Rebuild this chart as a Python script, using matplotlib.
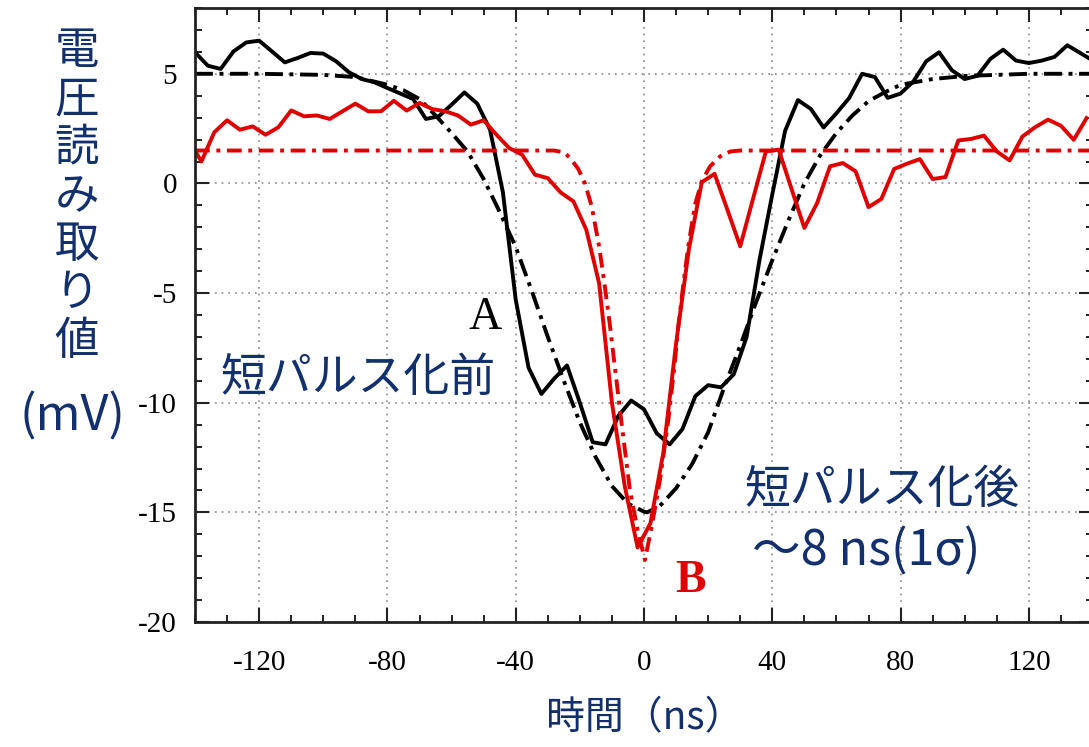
import matplotlib
matplotlib.use("Agg")
import matplotlib.pyplot as plt
from matplotlib.ticker import MultipleLocator

# 測定波形 A (短パルス化前), 4 ns 刻み
time_a = list(range(-140, 141, 4))
volt_a = [5.98, 5.37, 5.22, 6.02, 6.43, 6.51, 6.02, 5.52, 5.72, 5.95,
          5.92, 5.57, 5.07, 4.76, 4.61, 4.35, 4.10, 3.85, 2.94, 3.06,
          3.59, 4.15, 3.64, 2.45, -0.40, -5.3, -8.4, -9.6, -8.9, -8.3,
          -10.0, -11.8, -11.9, -10.6, -9.9, -10.3, -11.4, -11.9, -11.2, -9.7,
          -9.2, -9.3, -8.7, -7.0, -3.5, -0.5, 2.4, 3.8, 3.4, 2.55,
          3.2, 3.9, 5.0, 4.85, 3.9, 4.1, 4.65, 5.57, 5.98, 5.16,
          4.76, 4.91, 5.68, 6.10, 5.60, 5.49, 5.60, 5.77, 6.30, 5.95,
          5.6]

# 測定波形 B (短パルス化後)
time_b = list(range(-142, 139, 4))
volt_b = [2.0, 1.00, 2.33, 2.88, 2.45, 2.60, 2.22, 2.56, 3.33, 3.06,
          3.10, 2.94, 3.29, 3.64, 3.29, 3.29, 3.77, 3.32, 3.67, 3.39,
          3.29, 3.10, 2.68, 2.88, 2.22, 1.61, 1.31, 0.40, 0.24, -0.41,
          -0.82, -2.11, -4.55, -10.0, -13.8, -16.6, -15.5, -12.3, -7.3, -3.0,
          0.05, 0.44, -1.2, -2.87, -0.7, 1.46, 1.54, -0.25, -2.03, -0.89,
          0.78, 0.93, 0.55, -1.08, -0.71, 0.66, 0.90, 1.11, 0.20, 0.29,
          1.96, 2.03, 2.18, 1.46, 1.05, 2.14, 2.57, 2.91, 2.63, 1.99,
          2.98]

# フィット曲線 (一点鎖線)
fit_a_t = [-140, -120, -100, -90, -80, -75, -70, -65, -60, -55,
           -50, -45, -40, -35, -30, -25, -20, -15, -10, -5,
           0, 1, 5, 10, 15, 20, 25, 30, 35, 40,
           45, 50, 55, 60, 65, 70, 75, 80, 90, 100,
           120, 140]
fit_a_v = [5.0, 5.0, 4.95, 4.85, 4.5, 4.25, 3.85, 3.1, 2.3, 1.45,
           0.2, -1.3, -2.9, -4.9, -7.0, -9.0, -10.9, -12.5, -13.8, -14.6,
           -14.97, -15.0, -14.7, -13.9, -12.8, -11.35, -9.3, -7.4, -5.4, -3.5,
           -1.7, 0.0, 1.3, 2.3, 3.1, 3.75, 4.15, 4.5, 4.76, 4.9,
           5.0, 5.0]

fit_b_t = [-140, -28, -25, -23, -20.5, -18.4, -16.3, -14, -12.2, -10.6,
           -9.6, -7, -4.4, -1.8, 0.3, 2.4, 5, 7.6, 9.7, 10.7,
           12.3, 13.8, 15.9, 18, 20.6, 23.7, 27, 30, 140]
fit_b_v = [1.5, 1.5, 1.42, 1.16, 0.66, 0.0, -1.05, -2.87, -4.7, -6.5,
           -7.74, -10.93, -13.97, -15.95, -17.17, -15.65, -13.5, -10.78, -8.04, -6.5,
           -4.55, -2.87, -0.97, 0.09, 0.78, 1.23, 1.46, 1.5, 1.5]

x_ticks = [-120, -80, -40, 0, 40, 80, 120]
y_ticks = [-20, -15, -10, -5, 0, 5]
ylabel_chars = ["電", "圧", "読", "み", "取", "り", "値"]

NAVY = "#12306e"
RED = "#e00000"
W, H = 1089, 747


def main():
    plt.rcParams['font.family'] = ['Noto Sans CJK JP', 'DejaVu Sans']
    plt.rcParams['axes.unicode_minus'] = False
    fig = plt.figure(figsize=(W / 100, H / 100), dpi=100)
    ax = fig.add_axes([195 / W, 125 / H, 898 / W, 614 / H])

    ax.plot(fit_a_t, fit_a_v, color='k', lw=2.8, dashes=(4.6, 1.7, 1, 1.7))
    ax.plot(time_a, volt_a, color='k', lw=2.8)
    ax.plot(fit_b_t, fit_b_v, color=RED, lw=2.8, dashes=(3.8, 1.7, 1, 1.7))
    ax.plot(time_b, volt_b, color=RED, lw=2.8)

    ax.set_xlim(-140, 140)
    ax.set_ylim(-20, 8)
    ax.set_xticks(x_ticks)
    ax.set_yticks(y_ticks)
    ax.xaxis.set_minor_locator(MultipleLocator(10))
    ax.yaxis.set_minor_locator(MultipleLocator(1))
    ax.grid(True, which='major', color='#8a8a8a', lw=1.2, linestyle=(0, (1, 3)))
    ax.tick_params(which='both', direction='in', top=True, right=True,
                   color='#222222')
    ax.tick_params(which='major', length=10, width=1.5)
    ax.tick_params(which='minor', length=5, width=1.4)
    ax.tick_params(axis='x', pad=20)
    ax.tick_params(axis='y', pad=13)
    for lab in ax.get_xticklabels() + ax.get_yticklabels():
        lab.set_fontfamily('Liberation Serif')
        lab.set_fontsize(21)
    for sp in ax.spines.values():
        sp.set_linewidth(2)
        sp.set_color('#222222')

    # 縦書きの軸ラベル
    for i, ch in enumerate(ylabel_chars):
        fig.text(77 / W, 1 - (51 + 48.3 * i) / H, ch, fontsize=32, color=NAVY,
                 ha='center', va='center')
    fig.text(72 / W, 1 - 417 / H, "(mV)", fontsize=35, color=NAVY,
             ha='center', va='center')
    fig.text(645 / W, 1 - 718 / H, "時間（ns）", fontsize=28, color=NAVY,
             ha='center', va='center')

    fig.text(358 / W, 1 - 378 / H, "短パルス化前", fontsize=33, color=NAVY,
             ha='center', va='center')
    fig.text(882 / W, 1 - 490 / H, "短パルス化後", fontsize=33, color=NAVY,
             ha='center', va='center')
    fig.text(866 / W, 1 - 552 / H, "～8 ns(1σ)", fontsize=35, color=NAVY,
             ha='center', va='center')
    fig.text(485 / W, 1 - 318 / H, "A", fontsize=33, color='k',
             family='Liberation Serif', ha='center', va='center')
    fig.text(691 / W, 1 - 581 / H, "B", fontsize=33, color=RED,
             family='Liberation Serif', fontweight='bold', ha='center', va='center')

    fig.savefig("out.png", dpi=100)
    plt.close(fig)


if __name__ == '__main__':
    main()
